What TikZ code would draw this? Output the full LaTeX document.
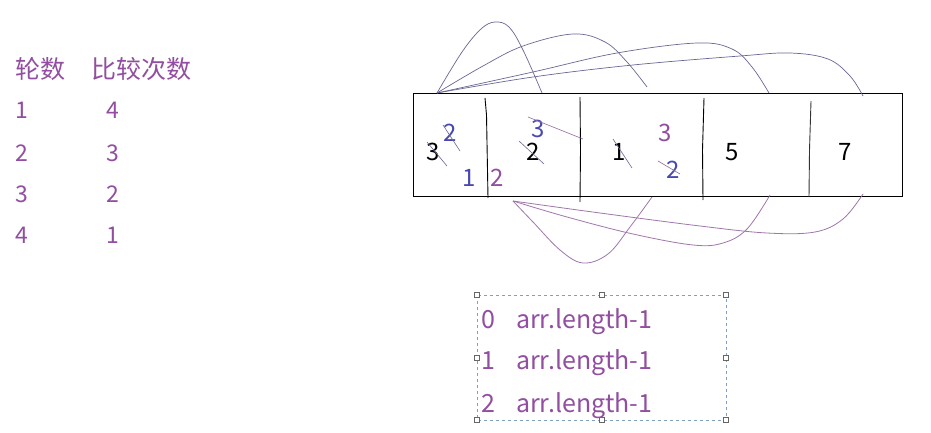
\documentclass[tikz,border=0pt]{standalone}
\usepackage{fontspec}
\newfontfamily\cjk{Noto Sans CJK SC}
\usepackage{tikz}
\usetikzlibrary{positioning,calc}
\usepackage{xcolor}
\definecolor{plum}{RGB}{146,78,160}
\definecolor{inkblue}{RGB}{72,72,178}
\definecolor{arcblue}{RGB}{104,104,148}
\definecolor{arcplum}{RGB}{160,118,170}
\definecolor{selgray}{RGB}{128,160,190}

\begin{document}
\begin{tikzpicture}[x=1pt, y=-1pt,
    txt/.style={anchor=base west, inner sep=0pt, font=\cjk\fontsize{23}{26}\selectfont},
    boxnum/.style={anchor=base west, inner sep=0pt, font=\cjk\fontsize{24}{28}\selectfont},
    strike/.style={arcblue, line width=0.6pt},
    handle/.style={draw=gray!80!black, fill=white, line width=0.5pt, minimum size=5pt, inner sep=0pt}]

    \useasboundingbox[fill=white] (0,0) rectangle (931,433);

    % =========================================================================
    % TABLE: rounds and comparisons
    % =========================================================================
    \node[txt, text=plum, font=\cjk\fontsize{25}{28}\selectfont] (hdrA) at (15,79) {轮数};
    \node[txt, text=plum, font=\cjk\fontsize{25}{28}\selectfont] (hdrB) at (91,79) {比较次数};
    \foreach \r/\c/\y in {1/4/119, 2/3/161, 3/2/202, 4/1/243} {
        \node[txt, text=plum] (round\r) at (15,\y) {\r};
        \node[txt, text=plum] (count\r) at (106,\y) {\c};
    }

    % =========================================================================
    % ARRAY BOX
    % =========================================================================
    \draw[black, line width=0.9pt] (413,93) rectangle (902,196);
    \draw[black, line width=0.9pt] (485,98) -- (486.5,115) -- (488,198);
    \draw[black, line width=0.9pt] (580,97) -- (580.5,150) -- (580,202);
    \draw[black, line width=0.9pt] (704,98) -- (702.5,150) -- (703,200);
    \draw[black!80, line width=0.9pt] (811,101) -- (809.5,150) -- (809,197);

    % values
    \node[boxnum] (v3) at (426,160) {3};
    \node[boxnum] (v2) at (526,160) {2};
    \node[boxnum] (v1) at (612,160) {1};
    \node[boxnum] (v5) at (725,160) {5};
    \node[boxnum] (v7) at (838,160) {7};

    % scribbled round numbers
    \node[boxnum, text=inkblue] (bA) at (443,142) {2};
    \node[boxnum, text=inkblue] (bB) at (462,186) {1};
    \node[boxnum, text=plum]    (pA) at (490,186) {2};
    \node[boxnum, text=inkblue] (bC) at (531,137) {3};
    \node[boxnum, text=plum]    (pB) at (658,141) {3};
    \node[boxnum, text=inkblue] (bD) at (666,178) {2};

    % strike-outs
    \draw[strike] (427,142) -- (447,166);
    \draw[strike] (443,125) -- (460,151);
    \draw[strike] (519,141) -- (544,164);
    \draw[strike, arcplum!90!black] (528,117) -- (583,139);
    \draw[strike] (613,139) -- (632,168);
    \draw[strike, arcplum!90!black] (658,161) -- (680,174);

    % =========================================================================
    % ARCS above (first element) and below (second element)
    % =========================================================================
    \coordinate (topA) at (437,93);
    \coordinate (botA) at (513,201);

    \draw[arcblue, line width=0.7pt] plot[smooth, tension=0.6] coordinates
        {(topA) (462,52) (481,29) (495,22) (509,27) (523,50) (542,93)};
    \draw[arcblue, line width=0.7pt] plot[smooth, tension=0.6] coordinates
        {(topA) (483,66) (523,46) (573,34) (605,42) (627,62) (647,87)};
    \draw[arcblue, line width=0.7pt] plot[smooth, tension=0.6] coordinates
        {(topA) (533,72) (617,53) (697,43) (732,49) (752,67) (769,93)};
    \draw[arcblue, line width=0.7pt] plot[smooth, tension=0.6] coordinates
        {(topA) (533,77) (633,65) (740,56) (790,53) (828,59) (850,76) (863,96)};

    \draw[arcplum, line width=0.8pt] plot[smooth, tension=0.6] coordinates
        {(botA) (533,222) (560,250) (583,263) (608,254) (630,227) (652,197)};
    \draw[arcplum, line width=0.8pt] plot[smooth, tension=0.6] coordinates
        {(botA) (567,217) (633,234) (693,245) (723,243) (747,229) (770,195)};
    \draw[arcplum, line width=0.8pt] plot[smooth, tension=0.6] coordinates
        {(botA) (600,213) (700,226) (767,233) (815,232) (843,219) (863,194)};

    % =========================================================================
    % SELECTED TEXT BOX
    % =========================================================================
    \draw[selgray, dashed, line width=0.7pt] (477,295) rectangle (726,420);
    \foreach \hx/\hy [count=\k] in {477/295, 602/295, 726/295, 477/358, 726/358, 477/420, 602/420, 726/420} {
        \node[handle] (grip\k) at (\hx,\hy) {};
    }
    \foreach \i/\y in {0/328, 1/369, 2/412} {
        \node[txt, text=plum, font=\cjk\fontsize{25}{28}\selectfont] (idx\i) at (481,\y) {\i};
        \node[txt, text=plum, font=\cjk\fontsize{25}{28}\selectfont] (len\i) at (516,\y) {arr.length-1};
    }

\end{tikzpicture}
\end{document}
